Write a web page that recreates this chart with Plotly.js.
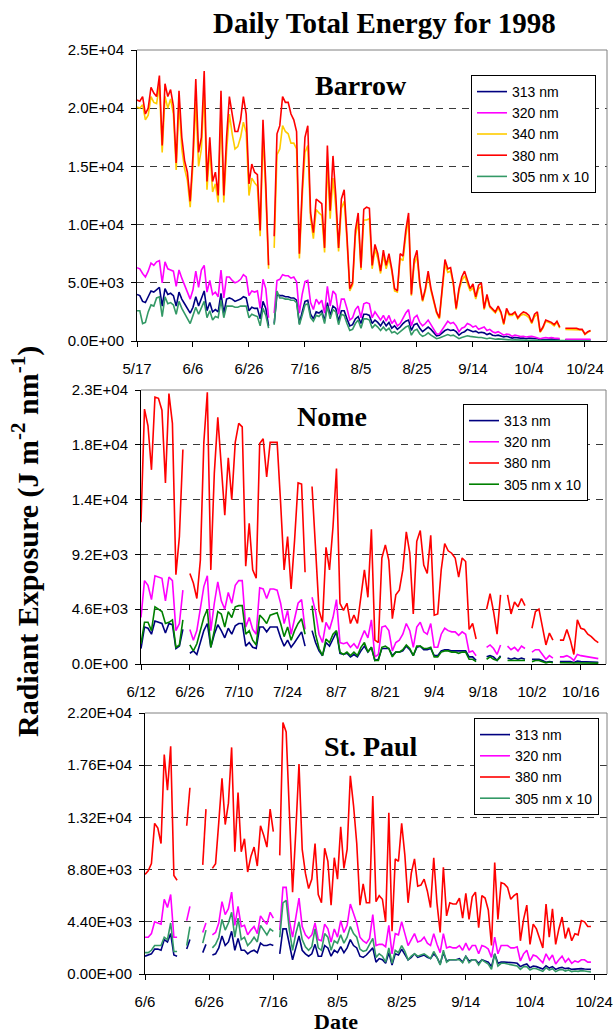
<!DOCTYPE html>
<html>
<head>
<meta charset="utf-8">
<script src="https://cdn.plot.ly/plotly-3.0.1.min.js"></script>
<style>html,body{margin:0;padding:0;background:#fff;}#chart{width:614px;height:1036px;}</style>
</head>
<body>
<div id="chart"></div>
<script>
// ---------- DATA ----------
const seriesNames = ['313 nm', '320 nm', '340 nm', '380 nm', '305 nm x 10'];

// Barrow: daily values starting 1998-05-17
const barrowStart = '1998-05-17';
const barrowTickDates = ['1998-05-17','1998-06-06','1998-06-26','1998-07-16','1998-08-05','1998-08-25','1998-09-14','1998-10-04','1998-10-24'];
const barrowTickLabels = ['5/17','6/6','6/26','7/16','8/5','8/25','9/14','10/4','10/24'];
const barrowYTicks = [0, 5000, 10000, 15000, 20000, 25000];
const barrowYLabels = ['0.0E+00','5.0E+03','1.0E+04','1.5E+04','2.0E+04','2.5E+04'];

const barrow313 = [
4000,3900,3400,3300,3800,4300,4200,4400,4600,3000,
4500,4000,4100,3900,3000,4200,3600,3200,2800,2400,
2900,3800,3000,3700,4300,2600,3300,2500,2700,2500,
4100,2400,3600,3700,3600,3400,3500,3600,3800,3700,
2600,2900,2800,2800,1900,3400,2800,1300,null,1500,
4000,3900,3900,3800,3800,3700,3700,3500,1500,2500,
3400,3500,2300,1900,2500,2400,2600,1700,3300,2200,
3000,2800,1700,2600,2600,1900,1300,1400,1900,2100,
1500,2300,2300,2200,1500,1800,1600,1300,1700,1300,
1600,1100,1300,1000,1200,1500,1700,1800,900,1400,
1500,1100,800,1000,1200,1000,700,450,500,700,
900,1000,900,950,800,500,700,800,1000,900,
800,850,700,750,700,550,650,500,450,500,
400,350,400,350,250,300,250,250,250,200,
250,250,200,200,120,150,180,150,170,150,
150,120,null,100,100,100,100,100,100,100,
80,90,90];
const barrow320 = [
6300,6200,5800,5500,6000,6700,6500,6800,6900,5000,
6800,6200,6100,6000,4700,6100,5400,4800,4200,3600,
4400,6000,4600,6100,6500,4200,5200,4000,4200,3800,
6100,3700,5500,5500,5200,5000,5100,5300,5700,5500,
3900,4300,4200,4300,2800,5300,4500,2000,null,2400,
5200,5300,5700,5600,5600,5400,5500,5100,2400,4000,
5100,5200,3300,2700,3600,3200,3500,2400,4700,3000,
4300,4000,2300,3600,3600,2800,1800,2000,2700,3000,
2000,3200,3300,3200,2000,2500,2100,1800,2200,1700,
2200,1500,1800,1300,1500,2000,2400,2700,1300,2000,
2200,1600,1300,1500,1800,1400,1000,600,600,1000,
1400,1700,1500,1600,1300,800,1100,1200,1500,1400,
1200,1300,1000,1100,1200,900,1000,800,700,800,
650,500,600,550,400,500,450,380,400,350,
380,400,350,300,200,250,300,250,300,250,
250,200,null,150,150,150,150,150,150,150,
120,130,150];
const barrow340 = [
20100,20000,20300,19000,19400,21000,20500,20400,22000,16200,
21000,20000,20800,19500,14700,20500,16500,14800,13800,11500,
15200,20500,15000,16500,21500,13000,16500,12800,13500,11900,
19800,11900,16300,19500,17800,16500,16700,17500,18800,17900,
12500,14000,13600,13300,9000,17800,12600,6200,null,8000,
16000,16500,18500,18000,17800,17000,17000,16500,7100,12300,
16200,16800,10500,8800,11300,11000,10800,7600,15300,10500,
14000,11500,7700,11400,12000,8600,4300,4800,9000,10300,
6100,10400,10400,10500,6200,7900,7100,5800,7400,6200,
7100,6000,4300,4200,7100,6900,9000,10500,3900,6600,
7300,4800,3400,4300,5700,4300,3300,2400,1900,4300,
6600,5900,6000,4800,2700,4300,5200,5600,5000,4300,
4600,3600,4500,4700,2700,3800,2900,2600,2400,2800,
2400,1400,2600,2200,2200,2400,1900,2200,2300,2200,
2000,1500,2100,2300,750,1100,1700,1600,1500,1300,
1600,1100,null,1000,1000,1000,1000,1000,950,950,
550,750,850];
const barrow380 = [
20700,20600,21000,19500,20000,21800,21300,21000,22800,16800,
22100,21000,21600,20200,15300,21500,17500,15500,14500,12000,
16000,22500,16200,17500,23200,13700,17500,13700,14500,12500,
21500,12500,17500,21000,19500,18000,18000,19000,21000,19500,
13500,15200,14500,14300,9500,19000,13500,6500,null,9000,
17800,18500,21000,20500,20500,19500,19000,18000,7500,13000,
17500,18500,11000,9300,12200,12000,11800,8000,16800,11200,
15900,12500,8000,12200,13000,9000,4500,5000,9500,11000,
6300,11300,11500,11400,6500,8300,7500,6000,7800,6500,
7500,6200,4500,4300,7500,7300,9500,11000,4000,7000,
7800,5000,3500,4500,6000,4500,3500,2500,2000,4500,
7000,6200,6300,5000,2800,4500,5500,6000,5300,4500,
4900,3800,4800,5000,2800,4000,3000,2700,2500,3000,
2500,1500,2800,2300,2300,2500,2000,2300,2500,2400,
2200,1600,2300,2500,800,1200,1800,1700,1600,1400,
1700,1200,null,1100,1100,1050,1100,1100,1000,1000,
600,800,900];
const barrow305x10 = [
2600,2600,1500,1600,2500,3100,3000,3700,3800,2100,
3800,3200,3300,3100,2300,3400,2800,2400,2000,1500,
2200,2900,2300,2900,3400,2000,2600,1800,2100,2000,
3500,2000,3000,3000,3000,2900,2900,3000,3000,3000,
2000,2300,2200,2100,1300,2800,2200,1100,null,1400,
4300,3700,3700,3600,3600,3500,3500,3300,1400,2200,
3100,3200,2000,1700,2200,2100,2400,1500,3000,1900,
2700,2500,1400,2300,2200,1500,900,1000,1500,1800,
1100,1900,1900,1800,1100,1400,1200,900,1200,900,
1100,700,800,600,800,1000,1200,1300,500,900,
1000,600,400,500,700,500,350,200,250,350,
500,550,450,500,350,200,300,350,450,400,
350,350,300,300,250,200,250,200,150,180,
150,120,130,110,80,100,80,80,70,60,
60,60,50,50,30,40,40,40,40,30,
30,30,30,20,20,20,20,20,20,20,
15,15,15];

// Nome: daily values starting 1998-06-12
const nomeStart = '1998-06-12';
const nomeTickDates = ['1998-06-12','1998-06-26','1998-07-10','1998-07-24','1998-08-07','1998-08-21','1998-09-04','1998-09-18','1998-10-02','1998-10-16'];
const nomeTickLabels = ['6/12','6/26','7/10','7/24','8/7','8/21','9/4','9/18','10/2','10/16'];
const nomeYTicks = [0, 4600, 9200, 13800, 18400, 23000];
const nomeYLabels = ['0.0E+00','4.6E+03','9.2E+03','1.4E+04','1.8E+04','2.3E+04'];

const nome313 = [
1300,3100,3000,2500,3600,3500,3400,2600,3400,3300,
1300,1500,2900,null,900,1100,800,1800,2800,3400,
1400,2500,3300,2800,2200,3000,2500,3200,3400,3400,
1500,1800,1400,1300,3100,3100,2700,3100,3100,3100,
2200,1500,2000,1400,1800,2200,2700,1500,null,2800,
1800,1100,700,1800,1500,2100,2700,900,800,900,
600,800,600,1100,1500,1000,1400,300,400,1300,
1300,1300,700,1000,1000,1100,1500,1200,700,1400,
1500,1200,1200,1300,700,700,1100,1200,1200,1100,
1100,1100,1100,1100,600,600,300,null,null,600,
700,600,300,700,null,500,400,500,400,500,
400,null,400,400,400,300,150,200,170,null,
200,200,250,200,120,250,200,200,180,150,
150,150];
const nome320 = [
3900,7000,6600,5400,7400,7300,7200,5300,7300,7000,
2800,3400,6200,null,2900,2000,2800,4800,6500,7400,
2800,5100,6900,5300,4600,6000,5100,6600,7000,7000,
3100,3900,2900,2500,6400,6300,5500,6300,6300,6200,
5100,3400,4500,2500,3900,5100,5400,2900,null,5600,
4400,2500,1800,3500,2900,3900,5400,1800,1700,1800,
1400,1700,1300,2100,2800,2200,3700,600,800,3100,
3200,2800,1100,1800,2000,2500,3400,2800,1400,3100,
3500,2700,2500,3400,1400,1400,2500,3000,2800,2700,
2700,2400,2700,2500,1000,1100,700,null,null,1400,
1600,1300,800,1600,null,1500,1200,1400,1100,1500,
1300,null,1000,1200,1200,800,400,700,500,null,
600,600,700,550,300,800,700,650,550,500,
450,450];
const nome380 = [
11900,21400,20000,16300,22400,22300,21300,15200,22700,20200,
7500,10700,18000,null,7600,6800,5500,8700,18600,22800,
7900,16000,20700,16300,12500,17300,13800,18600,20200,19900,
8200,11800,7900,7200,18500,18900,15700,18600,18600,18600,
13500,7900,10700,6300,10400,15200,15100,7700,null,14900,
9300,4500,3500,9800,7900,11500,16400,5100,4500,5100,
3400,4100,3400,5900,7900,5600,11300,2000,1800,8900,
10000,8700,3800,5800,6200,7900,11100,9300,4200,10300,
11200,8300,7600,10800,4100,4200,7900,10100,9500,9300,
8900,7300,8900,8600,2900,3400,2100,null,null,4600,
5900,4400,2500,5800,null,5800,4200,5200,4800,5500,
4900,null,3000,4400,4600,3200,1600,2600,2000,null,
2000,2000,2900,2000,800,3700,3000,2900,2500,2300,
2000,1800];
const nome305x10 = [
1700,3500,3500,2800,4800,4600,4400,3400,3500,3700,
1400,1600,3700,null,1600,1100,1700,2800,3900,4600,
1400,2800,4400,4200,3100,4400,3900,4800,4900,4900,
2500,2800,2000,1600,4100,3800,3400,4100,4200,4300,
3400,2300,3100,2000,2800,3400,3800,2500,null,4900,
2500,1300,700,2100,1800,2500,2800,1000,800,1000,
700,1000,700,1400,1800,1000,1400,300,300,1400,
1500,1300,600,1000,1000,1200,1600,1300,700,1500,
1500,1300,1300,1400,600,600,1000,1100,1100,1000,
1000,900,1000,1000,400,400,200,null,null,400,
600,400,300,600,null,300,300,300,300,300,
300,null,200,300,300,200,100,170,110,null,
100,100,120,100,60,120,100,100,90,80,
70,70];

// St. Paul: daily values starting 1998-06-06
const stpaulStart = '1998-06-06';
const stpaulTickDates = ['1998-06-06','1998-06-26','1998-07-16','1998-08-05','1998-08-25','1998-09-14','1998-10-04','1998-10-24'];
const stpaulTickLabels = ['6/6','6/26','7/16','8/5','8/25','9/14','10/4','10/24'];
const stpaulYTicks = [0, 4400, 8800, 13200, 17600, 22000];
const stpaulYLabels = ['0.00E+00','4.40E+03','8.80E+03','1.32E+04','1.76E+04','2.20E+04'];

const stpaul313 = [
1500,1600,1700,2100,2100,2000,2900,2700,3400,1600,
1500,null,null,2100,2900,null,null,null,1800,2500,
null,1600,1700,2200,3200,2400,2700,3600,2000,3000,
2000,2000,1700,1900,2000,1800,2600,2400,2400,2500,
2400,null,1700,3800,3800,2400,1200,2200,3200,2000,
1700,1500,1700,2500,1500,1500,2400,2200,1500,2000,
1800,2300,1800,2200,2900,2400,2200,1500,1400,1600,
1900,2200,1000,1300,1200,900,1800,760,1700,1600,
2100,1700,1200,1400,1700,1400,1500,1600,1400,1300,
1700,1400,840,1800,1100,1200,1200,1200,1300,1000,
1500,1100,1200,1200,900,1200,1100,1000,620,1700,
900,1000,1000,1000,980,950,900,620,760,840,
530,670,620,530,420,700,500,620,390,500,
560,450,500,390,420,420,450,420,390,390];
const stpaul320 = [
3100,3100,3400,4400,4300,4200,6300,5600,6700,3100,
3100,null,null,4500,5700,null,null,null,3500,4300,
null,3300,3500,4300,6100,5000,5500,6900,4100,5700,
4000,4100,3300,3700,4000,3400,4900,4500,4200,5200,
4700,null,3700,7300,7300,4500,3100,4700,6400,4000,
3300,3000,3300,4300,2900,2800,4200,3800,2700,3800,
3100,4500,3500,4100,5900,5100,4300,3100,2800,2600,
3000,5000,2400,2500,2500,2300,4100,1700,3400,3300,
4400,3400,2400,2900,3400,2700,2800,3100,2600,2400,
3400,2500,1800,3400,2200,2300,2200,2200,2400,2000,
2600,2000,2400,2400,1700,2400,2300,2100,1400,3100,
1700,2400,2400,2400,2200,2200,2300,1100,1700,2000,
1100,1600,1500,1200,950,1700,1200,1600,840,1200,
1500,1000,1300,900,1100,1000,1200,1200,1000,1000];
const stpaul380 = [
8400,8700,9300,12700,12300,11000,18500,15500,19200,8300,
7900,null,null,12500,15700,null,null,null,9200,13900,
null,8900,9300,12800,16500,12600,14400,19100,10300,15300,
10300,11400,8600,9900,10700,9100,12500,11700,10700,13900,
12000,null,10000,21200,20400,13000,6900,12000,17700,10500,
8500,7200,8000,11000,6700,6000,10600,9500,5800,9800,
8000,12400,8900,10500,16700,14200,11000,5800,7600,6000,
6000,15000,6100,6600,6300,4400,13600,3600,9700,9500,
12700,10000,6000,8500,9700,7400,7500,8000,7000,5600,
9800,6000,3500,9000,4900,6000,5900,5900,6400,4700,
6800,4600,6500,6900,3900,6600,6400,5400,2400,9400,
4600,7700,7600,7300,6300,6600,6800,2800,4600,5800,
2500,4200,3800,3000,2200,5900,3100,5500,2500,3800,
4800,3000,3900,2800,3400,3300,4500,4400,4000,4000];
const stpaul305x10 = [
1800,1800,2000,2400,2400,2400,3100,2900,4300,1900,
1900,null,null,2400,4000,null,null,null,2600,3700,
null,2200,2500,3100,4600,3700,4300,5200,3100,4700,
2900,3100,2400,2700,3100,2700,4100,3700,3300,3800,
3600,null,3100,6000,6200,3700,2000,3400,4400,2900,
2300,2000,2300,3800,2200,2000,3400,3100,2000,2800,
2600,3300,2600,3100,4000,3400,3100,2100,1900,2000,
2500,3000,1400,1700,1500,1000,2200,900,2000,1800,
2400,1900,1200,1500,1700,1500,1600,1700,1500,1300,
1900,1400,760,2000,1000,1200,1200,1200,1200,950,
1500,950,1200,1200,760,1200,1000,840,390,1700,
670,900,900,840,840,760,670,390,620,620,
340,480,450,340,220,530,340,450,200,340,
390,250,340,200,250,220,280,250,200,170];

// ---------- STYLE ----------
const colors = {
  '313 nm': '#000080',
  '320 nm': '#FF00FF',
  '340 nm': '#FFCC00',
  '380 nm': '#FF0000',
  '305 nm x 10': '#339966'
};
const nome305Color = '#008000';

const W = 614, H = 1036;
const fx = p => p / W;
const fy = p => 1 - p / H;
const SANS = 'Liberation Sans, Arial, sans-serif';
const SERIF = 'Liberation Serif, Times New Roman, serif';

function dayList(start, n) {
  const out = [];
  const t0 = Date.parse(start + 'T00:00:00Z');
  for (let i = 0; i < n; i++) {
    const d = new Date(t0 + i * 86400000);
    out.push(d.toISOString().slice(0, 10));
  }
  return out;
}

function mkTrace(name, x, y, ax, leg, color) {
  return {
    type: 'scatter', mode: 'lines', name: name, x: x, y: y,
    xaxis: 'x' + ax, yaxis: 'y' + ax, legend: leg,
    line: {color: color || colors[name], width: 1.6},
    connectgaps: false, hoverinfo: 'skip'
  };
}

const bx = dayList(barrowStart, barrow380.length);
const nx = dayList(nomeStart, nome380.length);
const sx = dayList(stpaulStart, stpaul380.length);

const traces = [
  mkTrace('313 nm', bx, barrow313, '', 'legend'),
  mkTrace('320 nm', bx, barrow320, '', 'legend'),
  mkTrace('340 nm', bx, barrow340, '', 'legend'),
  mkTrace('380 nm', bx, barrow380, '', 'legend'),
  mkTrace('305 nm x 10', bx, barrow305x10, '', 'legend'),
  mkTrace('313 nm', nx, nome313, '2', 'legend2'),
  mkTrace('320 nm', nx, nome320, '2', 'legend2'),
  mkTrace('380 nm', nx, nome380, '2', 'legend2'),
  mkTrace('305 nm x 10', nx, nome305x10, '2', 'legend2', nome305Color),
  mkTrace('313 nm', sx, stpaul313, '3', 'legend3'),
  mkTrace('320 nm', sx, stpaul320, '3', 'legend3'),
  mkTrace('380 nm', sx, stpaul380, '3', 'legend3'),
  mkTrace('305 nm x 10', sx, stpaul305x10, '3', 'legend3')
];

const tickFont = {family: SANS, size: 15, color: '#000'};
function xAxis(domain, range, tv, tt, anchor) {
  return {
    domain: domain, anchor: anchor, type: 'date', range: range,
    tickmode: 'array', tickvals: tv, ticktext: tt,
    ticks: 'outside', ticklen: 5, tickwidth: 1, tickcolor: '#000',
    showline: true, linecolor: '#000', linewidth: 1,
    showgrid: false, zeroline: false, tickfont: tickFont,
    ticklabelstandoff: 9, ticklabeloverflow: 'allow', fixedrange: true
  };
}
function yAxis(domain, range, tv, tt, anchor) {
  return {
    domain: domain, anchor: anchor, range: range,
    tickmode: 'array', tickvals: tv, ticktext: tt,
    ticks: 'outside', ticklen: 5, tickwidth: 1, tickcolor: '#000',
    showline: true, linecolor: '#000', linewidth: 1,
    showgrid: true, gridcolor: '#3a3a3a', gridwidth: 1, griddash: '7px,6px',
    zeroline: false, tickfont: tickFont, ticklabelstandoff: 4, fixedrange: true
  };
}
function legendAt(xp, yp) {
  return {
    x: fx(xp), y: fy(yp), xanchor: 'left', yanchor: 'top',
    bgcolor: '#fff', bordercolor: '#000', borderwidth: 1,
    font: {family: SANS, size: 14, color: '#000'},
    itemwidth: 30, tracegroupgap: 0, itemclick: false, itemdoubleclick: false
  };
}

// plot frames (pixel geometry)
const frames = [
  {l: 137, r: 607, t: 50, b: 341},
  {l: 141, r: 606, t: 390, b: 664},
  {l: 145, r: 607, t: 713, b: 974}
];

const shapes = [];
frames.forEach(f => {
  shapes.push({type: 'line', xref: 'paper', yref: 'paper', x0: fx(f.l), x1: fx(f.r), y0: fy(f.t), y1: fy(f.t), line: {color: '#808080', width: 1}, layer: 'above'});
  shapes.push({type: 'line', xref: 'paper', yref: 'paper', x0: fx(f.r), x1: fx(f.r), y0: fy(f.t), y1: fy(f.b), line: {color: '#808080', width: 1}, layer: 'above'});
});

const annotations = [
  {text: '<b>Daily Total Energy for 1998</b>', xref: 'paper', yref: 'paper', x: fx(385), y: fy(23), xanchor: 'center', yanchor: 'middle', showarrow: false, font: {family: SERIF, size: 29, color: '#000'}},
  {text: '<b>Barrow</b>', xref: 'paper', yref: 'paper', x: fx(361), y: fy(86), xanchor: 'center', yanchor: 'middle', showarrow: false, font: {family: SERIF, size: 28, color: '#000'}},
  {text: '<b>Nome</b>', xref: 'paper', yref: 'paper', x: fx(332), y: fy(416), xanchor: 'center', yanchor: 'middle', showarrow: false, font: {family: SERIF, size: 28, color: '#000'}},
  {text: '<b>St. Paul</b>', xref: 'paper', yref: 'paper', x: fx(371), y: fy(746), xanchor: 'center', yanchor: 'middle', showarrow: false, font: {family: SERIF, size: 28, color: '#000'}},
  {text: '<b>Radiant Exposure (J m<sup>-2</sup> nm<sup>-1</sup>)</b>', xref: 'paper', yref: 'paper', x: fx(25), y: fy(542), xanchor: 'center', yanchor: 'middle', textangle: -90, showarrow: false, font: {family: SERIF, size: 30, color: '#000'}},
  {text: '<b>Date</b>', xref: 'paper', yref: 'paper', x: fx(336), y: fy(1021), xanchor: 'center', yanchor: 'middle', showarrow: false, font: {family: SERIF, size: 22, color: '#000'}}
];

const layout = {
  width: W, height: H,
  margin: {l: 0, r: 0, t: 0, b: 0, pad: 0},
  paper_bgcolor: '#fff', plot_bgcolor: '#fff',
  showlegend: true,
  xaxis: xAxis([fx(137), fx(607)], ['1998-05-17', '1998-10-31 21:00'], barrowTickDates, barrowTickLabels, 'y'),
  yaxis: yAxis([fy(341), fy(50)], [0, 25000], barrowYTicks, barrowYLabels, 'x'),
  xaxis2: xAxis([fx(141), fx(606)], ['1998-06-12', '1998-10-23 05:00'], nomeTickDates, nomeTickLabels, 'y2'),
  yaxis2: yAxis([fy(664), fy(390)], [0, 23000], nomeYTicks, nomeYLabels, 'x2'),
  xaxis3: xAxis([fx(145), fx(607)], ['1998-06-06', '1998-10-28 00:00'], stpaulTickDates, stpaulTickLabels, 'y3'),
  yaxis3: yAxis([fy(974), fy(713)], [0, 22000], stpaulYTicks, stpaulYLabels, 'x3'),
  legend: legendAt(471, 75),
  legend2: legendAt(463, 404),
  legend3: legendAt(474, 718),
  shapes: shapes,
  annotations: annotations
};

Plotly.newPlot('chart', traces, layout, {displayModeBar: false, staticPlot: true});
</script>
</body>
</html>
